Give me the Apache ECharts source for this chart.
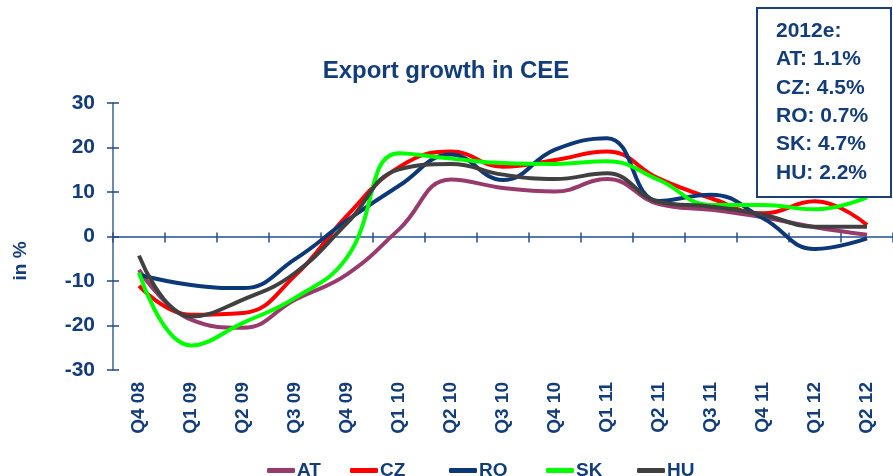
<!DOCTYPE html>
<html>
<head>
<meta charset="utf-8">
<script src="https://cdn.jsdelivr.net/npm/echarts@6/dist/echarts.min.js"></script>
<style>html,body{margin:0;padding:0;background:#fff;}#c{width:893px;height:476px;}</style>
</head>
<body>
<div id="c"></div>
<script>
var categories = ['Q4 08','Q1 09','Q2 09','Q3 09','Q4 09','Q1 10','Q2 10','Q3 10','Q4 10','Q1 11','Q2 11','Q3 11','Q4 11','Q1 12','Q2 12'];
var AT = [-7.5, -18.7, -20.5, -14.2, -8.5, 1.6, 12.8, 10.9, 10.1, 12.9, 7.3, 6.0, 4.3, 2.1, 0.4];
var CZ = [-11.1, -17.6, -17.2, -8.8, 4.7, 15.6, 19.1, 15.7, 17.2, 19.1, 13.0, 8.6, 5.2, 7.9, 2.6];
var RO = [-8.6, -10.9, -11.6, -5.1, 3.6, 11.4, 18.4, 12.7, 19.5, 22.1, 8.0, 9.4, 4.1, -2.8, -0.4];
var SK = [-8.1, -24.5, -19.4, -13.8, -4.7, 18.7, 17.5, 16.5, 16.3, 16.9, 12.7, 7.1, 7.1, 6.1, 8.8];
var HU = [-4.3, -18.0, -14.2, -8.2, 3.0, 15.1, 16.3, 13.9, 12.9, 14.2, 7.8, 6.7, 4.9, 2.2, 2.2];
var seriesNames = ['AT','CZ','RO','SK','HU'];
var seriesData = [AT, CZ, RO, SK, HU];
var seriesColors = ['#993a6c','#ff0000','#0d3878','#00ff00','#404040'];
var boxLines = ['2012e:','AT: 1.1%','CZ: 4.5%','RO: 0.7%','SK: 4.7%','HU: 2.2%'];
var legendLeft = [262, 345, 444, 541, 632];

var NAVY = '#133d7a';
var FONT = '"Liberation Sans", Arial, sans-serif';
var chart = echarts.init(document.getElementById('c'));
var series = seriesNames.map(function(n, i){
  return {
    name: n, type: 'line', data: seriesData[i], smooth: 0.45,
    xAxisIndex: 0, yAxisIndex: 0,
    showSymbol: false, symbol: 'none',
    lineStyle: {width: 4, color: seriesColors[i]},
    itemStyle: {color: seriesColors[i]},
    z: 3 + i
  };
});
var legends = seriesNames.map(function(n, i){
  return {
    data: [n], left: legendLeft[i], top: 456, icon: 'roundRect',
    itemWidth: 28, itemHeight: 5, itemGap: 0,
    textStyle: {color: NAVY, fontWeight: 'bold', fontSize: 19, fontFamily: '"Liberation Sans Narrow", "Liberation Sans", Arial, sans-serif', padding: [0,0,0,-3]}
  };
});
var graphics = [{
  type: 'rect', left: 756, top: 7, z: 100,
  shape: {width: 134, height: 189},
  style: {fill: '#fff', stroke: '#1a3f7a', lineWidth: 2}
}, {
  type: 'text', x: 21, y: 261, rotation: Math.PI/2, z: 100,
  style: {text: 'in %', fill: NAVY, font: 'bold 19px ' + FONT, align: 'center', verticalAlign: 'middle'}
}];
boxLines.forEach(function(t, i){
  graphics.push({
    type: 'text', x: 776, y: 31 + i * 28.4, z: 101,
    style: {text: t, fill: NAVY, font: 'bold 21px ' + FONT, align: 'left', verticalAlign: 'middle'}
  });
});
var yBase = {type: 'value', min: -30, max: 30, interval: 10, splitLine: {show: false}, position: 'left'};
chart.setOption({
  animation: false,
  title: {text: 'Export growth in CEE', left: 441, top: 54, textAlign: 'center',
    textStyle: {color: NAVY, fontWeight: 'bold', fontSize: 24, fontFamily: FONT}},
  grid: {left: 113, right: -13, top: 103, bottom: 106},
  legend: legends,
  graphic: graphics,
  xAxis: [{
    type: 'category', data: categories, boundaryGap: true, position: 'bottom',
    axisLine: {show: false, onZero: false}, axisTick: {show: false},
    axisLabel: {rotate: 90, margin: 12, color: NAVY, fontWeight: 'bold', fontSize: 19, fontFamily: FONT, interval: 0}
  }, {
    type: 'category', data: categories, boundaryGap: true, position: 'bottom',
    axisLine: {show: true, onZero: true, onZeroAxisIndex: 0, lineStyle: {color: '#24508f', width: 1.5}},
    axisTick: {show: true, inside: false, length: 6, interval: 0, lineStyle: {color: '#24508f', width: 1.5}},
    axisLabel: {show: false}
  }, {
    type: 'category', data: categories, boundaryGap: true, position: 'bottom',
    axisLine: {show: false, onZero: true, onZeroAxisIndex: 0},
    axisTick: {show: true, inside: true, length: 4, interval: 0, lineStyle: {color: '#24508f', width: 1.5}},
    axisLabel: {show: false}
  }],
  yAxis: [Object.assign({}, yBase, {
    axisLine: {show: true, lineStyle: {color: '#7089b2', width: 2}},
    axisTick: {show: true, inside: false, length: 6, lineStyle: {color: '#1f4a88', width: 1.5}},
    axisLabel: {color: NAVY, fontWeight: 'bold', fontSize: 21, margin: 18, fontFamily: FONT}
  }), Object.assign({}, yBase, {
    axisLine: {show: false},
    axisTick: {show: true, inside: true, length: 6, lineStyle: {color: '#1f4a88', width: 1.5}},
    axisLabel: {show: false}
  })],
  series: series
});
</script>
</body>
</html>
